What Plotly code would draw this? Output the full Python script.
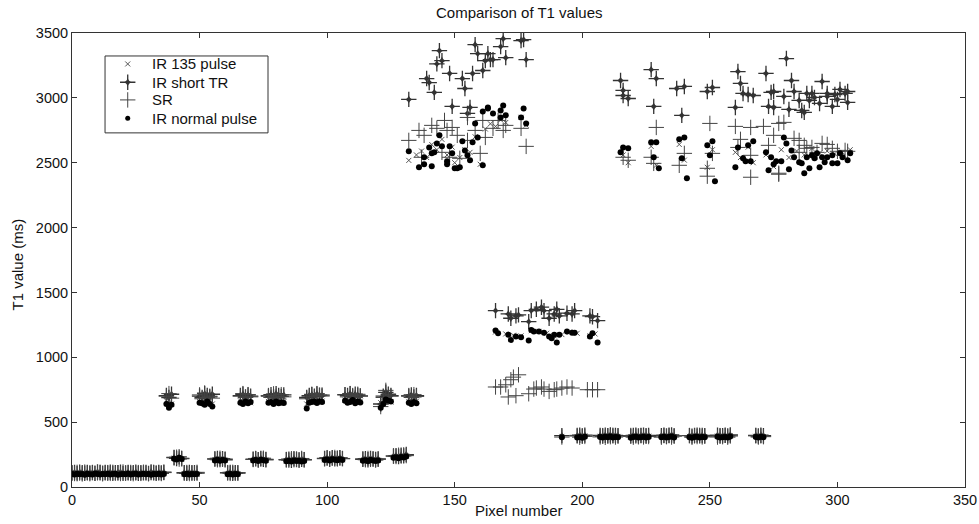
import plotly.graph_objects as go

# ---------------- data ----------------
# Pixel numbers 0..135 (low banded part, every pixel measured by all 4 methods)
low_x = list(range(0, 136))

ir135_low = ([98,102,95,104,100,97,103,99,101,96,105,100,98,102,99,103,97,101,100,104,96,99,102,98,101,103,97,100,99,102,96,104,100,98,101,99,103]
             + [665,650,640] + [222,215,225,212] + [100,97,103,99,101,98]
             + [660,655,670,650,665,640] + [208,212,205,210,206] + [100,98,102,97,101]
             + [665,655,670,660,650] + [205,210,202,208,212,206]
             + [660,668,655,672,650,662,658] + [200,205,198,208,202,206,199,204]
             + [640,665,660,670,655,668,662] + [210,214,208,216,212,209,215,211]
             + [670,660,665,672,658,668,662] + [205,208,202,210,206,204,207]
             + [650,665,675,660,655] + [228,232,226,235,230,238] + [660,655,668,662])
shorttr_low = ([108,112,104,115,110,106,113,109,111,105,116,110,107,113,108,114,106,111,110,115,105,109,112,107,111,114,106,110,109,113,105,116,110,107,112,109,114]
               + [705,690,715] + [228,220,232,218] + [110,106,113,108,111,107]
               + [700,690,720,705,695,715] + [215,220,212,218,210] + [109,112,106,110,108]
               + [705,715,695,710,700] + [215,218,210,220,214,212]
               + [700,712,695,720,705,698,710] + [210,215,206,218,212,208,214,210]
               + [690,705,712,700,718,708,702] + [220,224,216,226,218,222,225,219]
               + [712,705,720,700,715,708,702] + [214,218,210,220,215,212,216]
               + [640,700,730,715,705] + [238,242,235,245,240,250] + [700,710,695,705])
sr_low = ([110,104,113,107,101,115,108,103,112,106,109,114,102,108,111,105,113,107,110,104,116,106,109,112,103,108,111,105,114,107,102,110,113,106,109,104,111]
          + [700,720,685] + [225,230,215,222] + [108,112,104,110,106,113]
          + [710,680,725,690,700,685] + [218,210,222,214,216] + [111,105,113,107,110]
          + [700,720,690,712,695] + [212,220,208,216,222,210]
          + [705,690,718,700,685,712,695] + [212,206,218,210,215,208,220,211]
          + [680,700,715,695,720,705,710] + [218,226,214,222,228,216,224,220]
          + [710,695,720,705,690,715,700] + [216,210,220,213,218,208,214]
          + [620,690,745,710,700] + [240,235,245,238,248,242] + [705,690,712,698])
normal_low = ([100,96,103,98,101,95,102,99,97,104,100,96,101,98,103,97,100,102,95,99,101,98,104,96,100,103,97,99,102,98,100,95,101,99,103,97,100]
              + [640,610,635] + [218,212,226,215] + [99,102,96,101,98,100]
              + [650,645,635,660,640,620] + [205,210,202,208,204] + [99,101,97,100,98]
              + [650,640,660,645,655] + [204,208,200,210,206,202]
              + [650,655,640,660,645,652,648] + [198,203,196,205,200,202,197,201]
              + [605,650,655,660,648,662,655] + [208,212,205,214,210,207,213,209]
              + [665,650,655,670,645,660,652] + [202,206,199,208,204,201,205]
              + [610,640,675,665,660] + [225,230,222,232,228,236] + [650,640,655,645])

# ~390 ms band (pixels 192..271)
band_x = ([192] + [198,199,200,201] + list(range(207, 215)) + list(range(219, 227))
          + list(range(231, 237)) + list(range(242, 249)) + list(range(253, 259)) + list(range(268, 272)))
ir135_band = [390, 388,392,386,394, 391,387,393,389,395,388,392,390, 386,391,394,388,390,393,387,392,
              389,393,387,391,395,388, 390,386,392,394,388,391,389, 393,387,390,392,388,395, 391,387,393,389]
shorttr_band = [396, 394,399,392,400, 397,393,399,395,401,394,398,396, 392,397,400,394,396,399,393,398,
                395,399,393,397,401,394, 396,392,398,400,394,397,395, 399,393,396,398,394,401, 397,393,399,395]
sr_band = [385, 398,384,395,390, 386,396,383,394,388,399,385,392, 397,384,393,387,398,386,395,389,
           384,396,388,399,385,393, 397,383,394,389,398,386,392, 385,396,388,399,384,393, 396,385,394,388]
normal_band = [384, 382,386,380,388, 385,381,387,383,389,382,386,384, 380,385,388,382,384,387,381,386,
               383,387,381,385,389,382, 384,380,386,388,382,385,383, 387,381,384,386,382,389, 385,381,387,383]

# middle region (pixels ~165..206)
shorttr_mid_x = [166,171,172,174,175,179,180,182,184,185,187,189,190,191,194,196,197,203,204,206]
shorttr_mid_y = [1360,1334,1301,1319,1327,1275,1360,1370,1386,1360,1301,1334,1370,1319,1340,1334,1360,1319,1313,1283]
normal_mid_x = [166,167,171,172,174,176,179,180,181,183,185,187,188,189,190,191,194,196,197,203,204,206]
normal_mid_y = [1206,1186,1173,1134,1160,1155,1129,1211,1198,1198,1190,1160,1147,1173,1114,1173,1198,1190,1190,1160,1186,1114]
sr_mid_x = [166,168,170,172,173,175,171,174,179,181,182,184,185,187,189,190,192,194,196,202,204,206]
sr_mid_y = [771,771,788,827,847,865,694,704,719,755,763,771,755,737,750,755,763,771,763,750,750,750]
ir135_mid_x = [166,170,173,176,180,183,186,189,192,195,198,203,205]
ir135_mid_y = [1195,1180,1170,1165,1205,1200,1185,1165,1175,1195,1185,1165,1180]

# high region 1 (pixels ~132..178)
shorttr_h1_x = [132,144,143,145,139,140,142,148,153,154,157,158,159,161,163,162,164,165,168,169,170,176,177,178,149,156,155]
shorttr_h1_y = [2988,3364,3262,3287,3149,3118,3042,3188,3149,3072,3188,3410,3341,3211,3341,3287,3295,3295,3395,3456,3310,3441,3449,3295,2934,2926,2880]
normal_h1_x = [132,136,138,138,140,141,141,142,144,143,145,147,147,148,149,150,151,152,153,154,155,156,157,158,159,161,163,163,165,161,168,169,170,168,177,176,178]
normal_h1_y = [2588,2465,2488,2542,2618,2572,2472,2580,2711,2649,2626,2488,2511,2626,2572,2457,2457,2465,2665,2595,2557,2519,2657,2803,2695,2895,2918,2926,2880,2480,2903,2941,2865,2849,2918,2849,2803]
sr_h1_x = [132,136,138,141,137,143,146,147,149,151,148,152,155,158,160,161,162,165,167,169,170,176,178,155,145]
sr_h1_y = [2672,2749,2711,2788,2542,2765,2826,2749,2772,2711,2542,2534,2672,2749,2572,2826,2695,2765,2826,2749,2788,2765,2626,2849,2580]
ir135_h1_x = [132,135,137,139,141,143,145,147,149,150,152,154,156,158,160,162,164,166,168,170,176,178]
ir135_h1_y = [2518,2560,2590,2540,2640,2600,2680,2560,2620,2500,2540,2600,2580,2700,2488,2760,2800,2780,2830,2810,2850,2790]

# high region 2 (pixels ~215..305)
shorttr_h2_x = [215,216,216,218,227,229,228,239,237,240,249,251,261,262,263,265,267,260,272,274,275,273,275,280,279,
                282,283,285,281,286,287,288,290,289,291,293,294,296,296,298,299,300,301,303,304,304]
shorttr_h2_y = [3134,3057,3018,2995,3218,3149,2934,2865,3072,3088,3049,3080,3203,3111,3034,3026,3018,2926,3188,3042,3049,2934,2926,3303,3011,
                3134,3049,2980,2911,2903,2888,3034,3034,2980,3003,2957,3126,3011,3034,2934,3026,2988,3065,3034,3049,2965]
normal_h2_x = [216,218,215,227,229,228,230,238,240,239,241,249,251,250,252,260,261,263,265,264,266,267,272,274,273,275,
               276,279,280,278,282,283,285,286,281,287,289,288,290,292,291,293,294,295,296,298,298,300,301,302,304,305]
normal_h2_y = [2618,2611,2580,2657,2657,2542,2457,2680,2695,2534,2380,2634,2665,2557,2357,2465,2618,2534,2634,2511,2511,2665,2580,2542,2442,2488,
               2511,2695,2649,2511,2595,2542,2503,2495,2449,2419,2457,2542,2557,2572,2534,2465,2542,2503,2542,2495,2557,2495,2572,2542,2519,2572]
sr_h2_x = [216,218,227,228,238,240,229,250,260,266,271,277,261,262,266,266,249,249,251,273,275,277,277,279,283,
           285,287,288,290,294,296,298,300,303,304,292,285]
sr_h2_y = [2542,2519,2542,2495,2480,2572,2772,2803,2780,2772,2780,2803,2618,2680,2557,2388,2457,2396,2572,2634,2711,2419,2411,2811,2688,
           2672,2634,2611,2618,2649,2641,2611,2588,2595,2588,2580,2580]
ir135_h2_x = [216,218,227,229,238,240,249,251,260,262,265,267,272,275,278,281,284,287,290,293,296,299,302,305]
ir135_h2_y = [2560,2500,2626,2480,2641,2520,2465,2600,2580,2540,2620,2500,2560,2470,2600,2540,2590,2560,2610,2575,2590,2570,2580,2600]

x_ticks = [0, 50, 100, 150, 200, 250, 300, 350]
y_ticks = [0, 500, 1000, 1500, 2000, 2500, 3000, 3500]
legend_names = ["IR 135 pulse", "IR short TR", "SR", "IR normal pulse"]

# ---------------- checks ----------------
for a, b in [(low_x, ir135_low), (low_x, shorttr_low), (low_x, sr_low), (low_x, normal_low),
             (band_x, ir135_band), (band_x, shorttr_band), (band_x, sr_band), (band_x, normal_band),
             (shorttr_mid_x, shorttr_mid_y), (normal_mid_x, normal_mid_y), (sr_mid_x, sr_mid_y), (ir135_mid_x, ir135_mid_y),
             (shorttr_h1_x, shorttr_h1_y), (normal_h1_x, normal_h1_y), (sr_h1_x, sr_h1_y), (ir135_h1_x, ir135_h1_y),
             (shorttr_h2_x, shorttr_h2_y), (normal_h2_x, normal_h2_y), (sr_h2_x, sr_h2_y), (ir135_h2_x, ir135_h2_y)]:
    assert len(a) == len(b), (len(a), len(b))

ir135_x = low_x + band_x + ir135_mid_x + ir135_h1_x + ir135_h2_x
ir135_y = ir135_low + ir135_band + ir135_mid_y + ir135_h1_y + ir135_h2_y
shorttr_x = low_x + band_x + shorttr_mid_x + shorttr_h1_x + shorttr_h2_x
shorttr_y = shorttr_low + shorttr_band + shorttr_mid_y + shorttr_h1_y + shorttr_h2_y
sr_x = low_x + band_x + sr_mid_x + sr_h1_x + sr_h2_x
sr_y = sr_low + sr_band + sr_mid_y + sr_h1_y + sr_h2_y
normal_x = low_x + band_x + normal_mid_x + normal_h1_x + normal_h2_x
normal_y = normal_low + normal_band + normal_mid_y + normal_h1_y + normal_h2_y

# ---------------- styles ----------------
font_family = "Liberation Sans, Arial, sans-serif"
mk_ir135 = dict(symbol="x-thin", size=5, color="#555555", line=dict(width=1, color="#555555"))
mk_str_arms = dict(symbol="cross-thin", size=11, color="#333333", line=dict(width=1.3, color="#333333"))
mk_str_core = dict(symbol="star-diamond", size=6, color="#333333", line=dict(width=0))
mk_sr = dict(symbol="cross-thin", size=11, color="#444444", line=dict(width=1, color="#444444"))
mk_normal = dict(symbol="circle", size=6, color="#000000", line=dict(width=0))

fig = go.Figure()
fig.add_trace(go.Scatter(x=ir135_x, y=ir135_y, mode="markers", name=legend_names[0], marker=mk_ir135))
fig.add_trace(go.Scatter(x=shorttr_x, y=shorttr_y, mode="markers", name=legend_names[1], marker=mk_str_arms))
fig.add_trace(go.Scatter(x=shorttr_x, y=shorttr_y, mode="markers", name=legend_names[1],
                         hoverinfo="skip", marker=mk_str_core))
fig.add_trace(go.Scatter(x=sr_x, y=sr_y, mode="markers", name=legend_names[2], marker=mk_sr))
fig.add_trace(go.Scatter(x=normal_x, y=normal_y, mode="markers", name=legend_names[3], marker=mk_normal))

# ---- compact MATLAB-style legend box drawn in paper space ----
leg_x0, leg_x1, leg_y0, leg_y1 = 0.037, 0.2195, 0.780, 0.9494
leg_sym_x, leg_txt_x = 0.0624, 0.0873
leg_rows = [0.9318, 0.8915, 0.8526, 0.8123]
fig.add_shape(type="rect", xref="paper", yref="paper", x0=leg_x0, x1=leg_x1, y0=leg_y0, y1=leg_y1,
              line=dict(color="#333333", width=1), fillcolor="white", layer="below")
leg_markers = [(0, mk_ir135), (1, mk_str_arms), (1, mk_str_core), (2, mk_sr), (3, dict(mk_normal, size=5))]
for row, mk in leg_markers:
    fig.add_trace(go.Scatter(x=[leg_sym_x], y=[leg_rows[row]], xaxis="x2", yaxis="y2", mode="markers",
                             marker=mk, hoverinfo="skip", showlegend=False))
for row, name in enumerate(legend_names):
    fig.add_annotation(x=leg_txt_x, y=leg_rows[row], xref="paper", yref="paper", text=name, showarrow=False,
                       xanchor="left", yanchor="middle", font=dict(family=font_family, size=15, color="#111111"))

# title and axis titles
fig.add_annotation(x=0.5, y=1.046, xref="paper", yref="paper", text="Comparison of T1 values", showarrow=False,
                   xanchor="center", yanchor="middle", font=dict(family=font_family, size=15, color="#111111"))
fig.add_annotation(x=0.5, y=-0.0517, xref="paper", yref="paper", text="Pixel number", showarrow=False,
                   xanchor="center", yanchor="middle", font=dict(family=font_family, size=15, color="#111111"))
fig.add_annotation(x=-0.0605, y=0.49, xref="paper", yref="paper", text="T1 value (ms)", showarrow=False,
                   textangle=-90, xanchor="center", yanchor="middle",
                   font=dict(family=font_family, size=15, color="#111111"))

axis_common = dict(showgrid=False, zeroline=False, showline=True, linecolor="#333333", linewidth=1,
                   mirror="allticks", ticks="inside", ticklen=5, tickcolor="#333333", automargin=False,
                   tickfont=dict(family=font_family, size=14.5, color="#111111"))

fig.update_layout(
    width=979, height=524,
    paper_bgcolor="white", plot_bgcolor="white",
    margin=dict(l=72, r=14, t=33, b=37),
    xaxis=dict(range=[0, 350], tickvals=x_ticks, ticktext=[str(v) for v in x_ticks], **axis_common),
    yaxis=dict(range=[0, 3500], tickvals=y_ticks, ticktext=[str(v) for v in y_ticks], **axis_common),
    xaxis2=dict(overlaying="x", range=[0, 1], visible=False, fixedrange=True),
    yaxis2=dict(overlaying="y", range=[0, 1], visible=False, fixedrange=True),
    showlegend=False,
)

# remove the browser's default 8px body margin so the figure fills the window exactly
fig.write_html("out.html", config={"displayModeBar": False},
               post_script="document.body.style.margin='0';document.body.style.overflow='hidden';")
